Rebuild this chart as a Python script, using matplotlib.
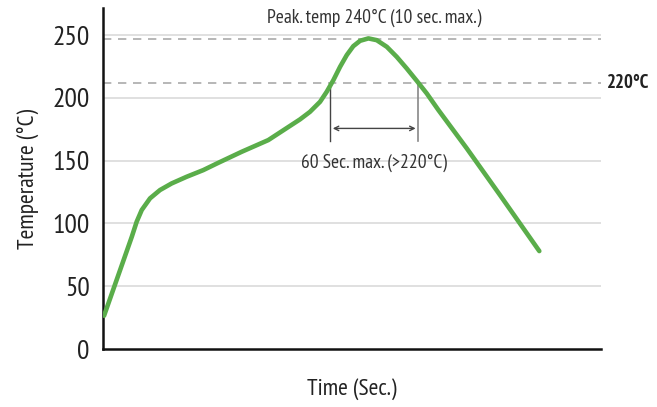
import matplotlib
matplotlib.use('Agg')
import matplotlib.pyplot as plt
from matplotlib import font_manager

time_s = [0.7, 19.4, 22.7, 26.1, 31.7, 38.4, 46.3, 56.4, 67.6, 77.7, 93.5, 111.4,
          132.8, 139.5, 146.3, 150.8, 155.3, 159.8, 164.3, 168.7, 173.3, 178.9,
          184.5, 191.3, 198.0, 204.7, 211.5, 218.2, 226.1, 245.2, 267.6, 294.1]
temp_c = [26.5, 89.4, 101.4, 110.7, 120.0, 126.6, 131.9, 137.2, 142.5, 148.3, 157.1, 166.4,
          182.9, 188.9, 196.9, 204.9, 214.2, 224.8, 234.1, 241.2, 245.5, 247.4,
          246.0, 240.7, 232.7, 223.5, 213.6, 203.6, 190.3, 159.8, 122.6, 78.0]

yticks = [0, 50, 100, 150, 200, 250]
peak_line = 247
limit_line = 211.5
window = [153.0, 212.6]

# Fonte estreita, se existe
names = {f.name for f in font_manager.fontManager.ttflist}
fam = ['DejaVu Sans']
for cand in ['PT Sans Narrow', 'Roboto Condensed', 'Fira Sans Condensed', 'Archivo Narrow',
             'Asap Condensed', 'Liberation Sans Narrow']:
    if cand in names:
        fam = [cand, 'DejaVu Sans']
        break
plt.rcParams['font.family'] = fam

fig = plt.figure(figsize=(6.57, 4.07), dpi=100)
ax = fig.add_axes([0.1568, 0.1425, 0.758, 0.8375])

ax.set_xlim(0, 335.7)
ax.set_ylim(0, 271.5)

# Reixa
for t in yticks[1:]:
    ax.axhline(t, color='#dddddd', lw=1.3, zorder=0)
ax.axhline(peak_line, color='#aaaaaa', lw=1.2, ls=(0, (5, 4)), zorder=1)
ax.axhline(limit_line, color='#aaaaaa', lw=1.2, ls=(0, (5, 4)), zorder=1)

ax.plot(time_s, temp_c, color='#5aad4a', lw=3.3, solid_capstyle='round',
        solid_joinstyle='round', zorder=3)

# Marcas dos 60 s
ax.plot([window[0], window[0]], [165.6, limit_line], color='#444444', lw=1, zorder=2)
ax.plot([window[1], window[1]], [165.6, limit_line], color='#888888', lw=1.2, zorder=2)
ax.annotate('', xy=(window[0], 175.7), xytext=(window[1], 175.7),
            arrowprops=dict(arrowstyle='<->', color='#444444', lw=1, mutation_scale=8))
ax.text(sum(window) / 2, 148, '60 Sec. max. (>220°C)', ha='center', va='center',
        fontsize=14, color='#333333')
ax.text(182.7, 263.5, 'Peak. temp 240°C (10 sec. max.)', ha='center', va='center',
        fontsize=14, color='#333333')
ax.text(339.8, limit_line, '220°C', ha='left', va='center', fontsize=13.5,
        fontweight='bold', color='#222222', clip_on=False)

ax.set_yticks(yticks)
ax.set_xticks([])
ax.tick_params(axis='y', length=0, labelsize=20, colors='#222222', pad=9.5)
for s in ['top', 'right']:
    ax.spines[s].set_visible(False)
for s in ['left', 'bottom']:
    ax.spines[s].set_linewidth(1.8)
    ax.spines[s].set_color('#111111')

ax.set_ylabel('Temperature (°C)', fontsize=17, color='#222222', labelpad=10)
ax.set_xlabel('Time (Sec.)', fontsize=17, color='#222222', labelpad=21)

fig.savefig('out.png', dpi=100)
